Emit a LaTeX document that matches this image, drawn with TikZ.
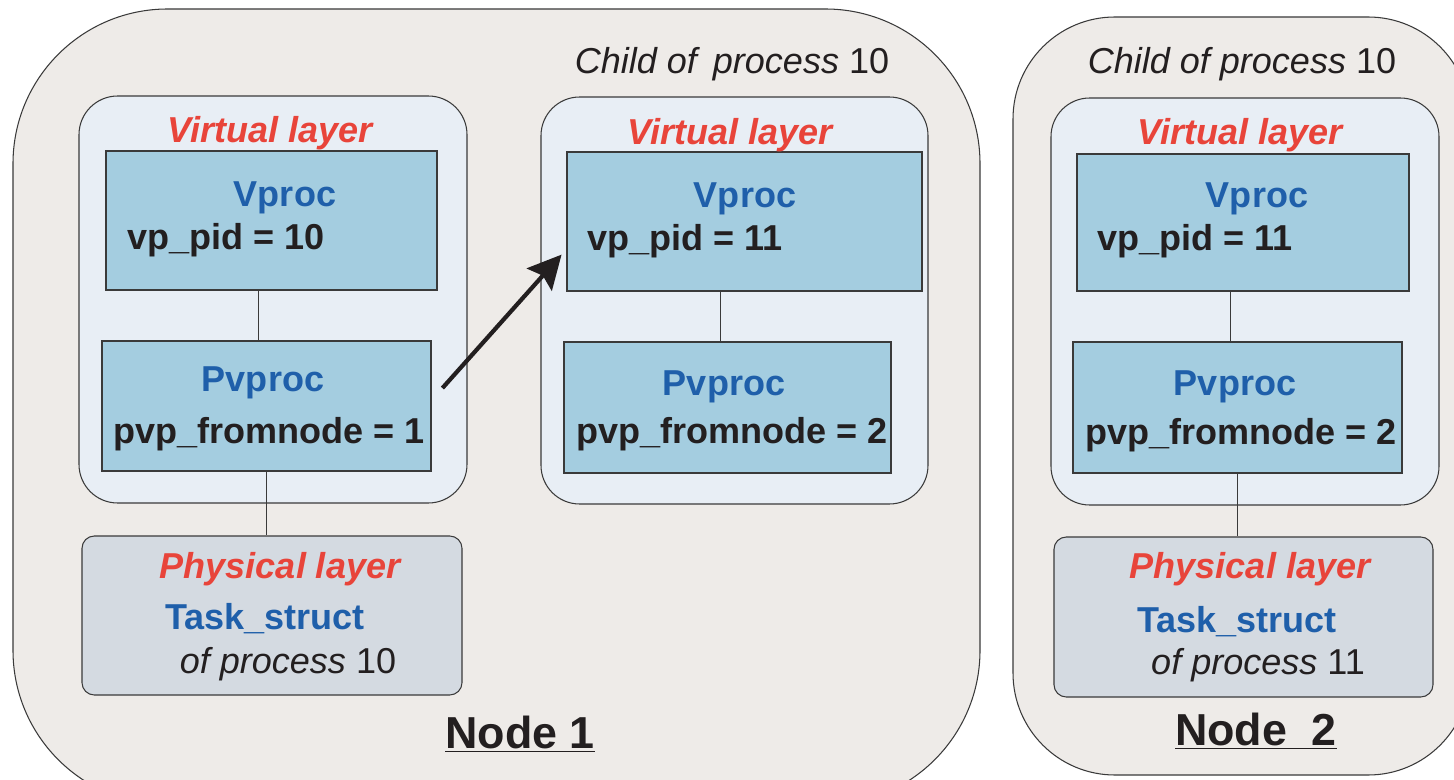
\documentclass[tikz,border=0pt]{standalone}
\usepackage{fontspec}
\setmainfont{Liberation Sans}
\usetikzlibrary{fit,arrows.meta}
\definecolor{outerfill}{HTML}{EEEBE8}
\definecolor{vlfill}{HTML}{E8EEF5}
\definecolor{procfill}{HTML}{A4CDE0}
\definecolor{physfill}{HTML}{D4DAE1}
\definecolor{redtxt}{HTML}{E8443A}
\definecolor{bluetxt}{HTML}{1F5FAA}
\definecolor{darktxt}{HTML}{231F20}
\definecolor{edge}{HTML}{3A3A3A}
\begin{document}
\begin{tikzpicture}[x=0.02cm,y=-0.02cm,
  outerbox/.style={draw=edge, line width=0.6pt, fill=outerfill, inner sep=0pt},
  vlbox/.style={draw=edge, line width=0.6pt, fill=vlfill, inner sep=0pt, rounded corners=22pt},
  procbox/.style={draw=edge, line width=0.6pt, fill=procfill, inner sep=0pt},
  physbox/.style={draw=edge, line width=0.6pt, fill=physfill, inner sep=0pt, rounded corners=7pt},
  txt/.style={font=\fontsize{20.5}{24}\selectfont, inner sep=0pt, anchor=base, text=darktxt},
  redlbl/.style={txt, font=\fontsize{20.5}{24}\selectfont\bfseries\itshape, text=redtxt},
  bluelbl/.style={txt, font=\fontsize{20.5}{24}\selectfont\bfseries, text=bluetxt},
  boldlbl/.style={txt, font=\fontsize{20.5}{24}\selectfont\bfseries},
  nodelbl/.style={txt, font=\fontsize{25.5}{30}\selectfont\bfseries},
  link/.style={draw=edge, line width=0.6pt},
  bigarrow/.style={draw=darktxt, line width=2.4pt, -{Stealth[length=19pt,width=19pt,inset=3pt]}}
]
\useasboundingbox (0,0) rectangle (1454,780);
\clip (0,0) rectangle (1454,780);
\fill[white] (0,0) rectangle (1454,780);

% outer nodes
\node[outerbox, rounded corners=88pt, fit={(13,9)(980,805)}] (N1) {};
\node[outerbox, rounded corners=58pt, fit={(1013,17)(1470,775)}] (N2) {};

% virtual layers
\node[vlbox, fit={(79,96)(467,503)}] (VL1) {};
\node[vlbox, fit={(541,97)(928,504)}] (VL2) {};
\node[vlbox, fit={(1051,98)(1439,505)}] (VL3) {};

% proc boxes
\node[procbox, fit={(106,151)(437,290)}] (V1) {};
\node[procbox, fit={(567,152)(922,291)}] (V2) {};
\node[procbox, fit={(1077,154)(1409,291)}] (V3) {};
\node[procbox, fit={(102,341)(431,471)}] (P1) {};
\node[procbox, fit={(564,342)(891,473)}] (P2) {};
\node[procbox, fit={(1073,342)(1402,473)}] (P3) {};

% physical layers
\node[physbox, fit={(82,536)(462,695)}] (PH1) {};
\node[physbox, fit={(1054,537)(1433,697)}] (PH3) {};

% connectors
\draw[link] ([xshift=-4.5pt]P1.north) -- ([xshift=-4.5pt]P1.north |- V1.south);
\draw[link] (P1.south) -- (P1.south |- PH1.north);
\draw[link] ([xshift=-4pt]P2.north) -- ([xshift=-4pt]P2.north |- V2.south);
\draw[link] ([xshift=-4pt]P3.north) -- ([xshift=-4pt]P3.north |- V3.south);
\draw[link] (P3.south) -- (P3.south |- PH3.north);
\draw[bigarrow] ([shift={(6.2pt,10.2pt)}]P1.east) -- ([shift={(-2.8pt,21pt)}]V2.south west);

% labels
\node[txt] (c1) at (732,74) {\itshape Child of\, process\upshape\ 10};
\node[txt] (c2) at (1242,74) {\itshape Child of process\upshape\ 10};

\node[redlbl] (vl1t) at (270,143) {Virtual layer};
\node[redlbl] (vl2t) at (730,145) {Virtual layer};
\node[redlbl] (vl3t) at (1240,145) {Virtual layer};

\node[bluelbl] (v1t) at (285,207) {Vproc};
\node[bluelbl] (v2t) at (745,208) {Vproc};
\node[bluelbl] (v3t) at (1257,208) {Vproc};
\node[boldlbl, anchor=base west] (v1p) at (127,250) {vp\_pid = 10};
\node[boldlbl, anchor=base west] (v2p) at (587,251) {vp\_pid = 11};
\node[boldlbl, anchor=base west] (v3p) at (1097,251) {vp\_pid = 11};

\node[bluelbl] (p1t) at (263,392) {Pvproc};
\node[bluelbl] (p2t) at (724,396) {Pvproc};
\node[bluelbl] (p3t) at (1235,396) {Pvproc};
\node[boldlbl] (p1f) at (269,443) {pvp\_fromnode = 1};
\node[boldlbl] (p2f) at (732,443) {pvp\_fromnode = 2};
\node[boldlbl] (p3f) at (1241,444) {pvp\_fromnode = 2};

\node[redlbl] (ph1t) at (280,578) {Physical layer};
\node[bluelbl] (ts1) at (265,629) {Task\_struct};
\node[txt] (op1) at (288,673) {\itshape of process\upshape\ 10};
\node[redlbl] (ph3t) at (1250,578) {Physical layer};
\node[bluelbl] (ts3) at (1237,632) {Task\_struct};
\node[txt] (op3) at (1258,674) {\itshape of process\upshape\ 11};

\node[nodelbl] (n1t) at (520,748) {\underline{Node 1}};
\node[nodelbl] (n2t) at (1256,745) {\underline{Node\hspace{0.55em}2}};
\end{tikzpicture}
\end{document}
